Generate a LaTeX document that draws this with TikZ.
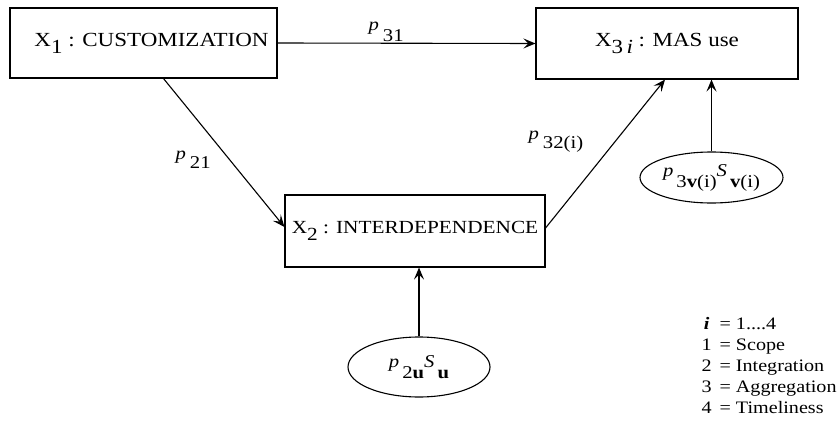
\documentclass[tikz,border=0pt]{standalone}
\usepackage{fontspec}
\setmainfont{Liberation Serif}
\newfontfamily\mainf[FakeStretch=1.15]{Liberation Serif}
\usetikzlibrary{arrows.meta,shapes.geometric}
\newcommand\lowr[2]{\raisebox{-#1}{#2}}
\begin{document}
\begin{tikzpicture}[x=1pt,y=-1pt, line width=1.1pt,
  box/.style={draw, rectangle, inner sep=0pt, font=\mainf\fontsize{20}{22}\selectfont},
  oval/.style={draw, ellipse, inner sep=0pt, font=\mainf\fontsize{18}{20}\selectfont},
  lab/.style={inner sep=0pt, anchor=base west, font=\mainf\fontsize{18}{20}\selectfont},
  arr/.style={-{Stealth[length=12pt,width=10pt,inset=5pt]}}]
\useasboundingbox (0,0) rectangle (840,428);

\node[box, minimum width=267pt, minimum height=70pt] (x1) at (143.5,43)
  {\hspace{16pt}X\lowr{7pt}{1} : CUSTOMIZATION};
\node[box, minimum width=262pt, minimum height=71pt] (x3) at (667,43.5)
  {X\lowr{7pt}{3\,\textit{i}} : MAS use};
\node[box, minimum width=260pt, minimum height=72pt, font=\mainf\fontsize{18.5}{22}\selectfont] (x2) at (415,231)
  {X\lowr{7pt}{2} : INTERDEPENDENCE};

\node[oval, minimum width=142pt, minimum height=60pt] (e2) at (419,367)
  {\textit{p}\hspace{3pt}\lowr{11pt}{2\textbf{u}}\textit{S}\hspace{3pt}\lowr{11pt}{\textbf{u}}};
\node[oval, minimum width=143pt, minimum height=51pt] (e3) at (711.5,177.5)
  {\textit{p}\hspace{3pt}\lowr{11pt}{3\textbf{v}(i)}\textit{S}\hspace{3pt}\lowr{11pt}{\textbf{v}(i)}};

\draw[arr] (x1.east) -- (x3.west);
\draw[arr] ([xshift=20pt]x1.south) -- ([yshift=4pt]x2.west);
\draw[arr] ([yshift=3pt]x2.east) -- ([xshift=-2pt]x3.south);
\draw[arr] (e2.north) -- (e2.north |- x2.south);
\draw[arr] (e3.north) -- (e3.north |- x3.south);

\node[lab] (l31) at (368,31) {\textit{p}\hspace{4pt}\lowr{11pt}{31}};
\node[lab] (l21) at (175,159) {\textit{p}\hspace{4pt}\lowr{9pt}{21}};
\node[lab] (l32) at (528,139) {\textit{p}\hspace{4pt}\lowr{9pt}{32(i)}};

\node[inner sep=0pt, anchor=base west, font=\mainf\fontsize{17.5}{21}\selectfont] (leg) at (701,329)
  {\begin{tabular}[t]{@{}c@{\hspace{8pt}}c@{\hspace{5pt}}l@{}}
   \textbf{\textit{i}} & = & 1....4\\
   1 & = & Scope\\
   2 & = & Integration\\
   3 & = & Aggregation\\
   4 & = & Timeliness
   \end{tabular}};
\end{tikzpicture}
\end{document}
